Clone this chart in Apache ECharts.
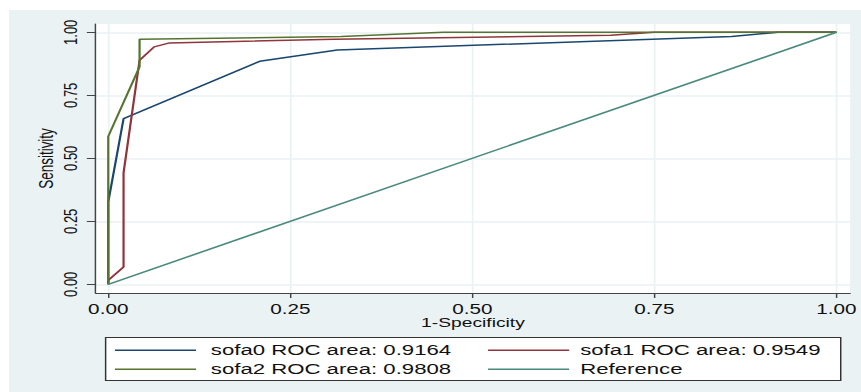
<!DOCTYPE html>
<html>
<head>
<meta charset="utf-8">
<script src="https://cdn.jsdelivr.net/npm/echarts@6/dist/echarts.min.js"></script>
<style>
  html, body { margin: 0; padding: 0; background: #ffffff; overflow: hidden; }
  #wrap { width: 861px; height: 392px; overflow: hidden; }
  #chart { width: 582px; height: 392px; transform: scaleX(1.479381); transform-origin: 0 0; }
</style>
</head>
<body>
<div id="wrap"><div id="chart"></div></div>
<script>
// ---- data (1-Specificity, Sensitivity) ----
const sofa0 = [[0,0],[0,0.327],[0.021,0.657],[0.208,0.885],[0.3145,0.930],[0.856,0.983],[0.92,1],[1,1]];
const sofa1 = [[0,0],[0,0.016],[0.021,0.069],[0.021,0.442],[0.043,0.889],[0.063,0.942],[0.084,0.958],[0.31,0.972],[0.69,0.988],[0.75,1],[1,1]];
const sofa2 = [[0,0],[0,0.587],[0.043,0.863],[0.043,0.972],[0.32,0.983],[0.46,1],[1,1]];
const reference = [[0,0],[1,1]];
const seriesNames = ['sofa0 ROC area: 0.9164','sofa1 ROC area: 0.9549','sofa2 ROC area: 0.9808','Reference'];
const tickValues = [0, 0.25, 0.5, 0.75, 1];
const xTitle = '1-Specificity';
const yTitle = 'Sensitivity';

const colors = ['#1a476f','#90353b','#55752f','#4a8a7c'];
const bg = '#eaf2f3';
const font = '"Liberation Sans", Arial, sans-serif';

const chart = echarts.init(document.getElementById('chart'), null, {renderer: 'svg'});
const mk = (name, data, i) => ({
  name: name, type: 'line', data: data, symbol: 'none', animation: false,
  lineStyle: {color: colors[i], width: 1.5}, itemStyle: {color: colors[i]}
});
const legendBase = {
  selectedMode: false, orient: 'vertical', top: 342.7, padding: 0,
  icon: 'rect', itemWidth: 54.8, itemHeight: 1.6, itemGap: 4
};
chart.setOption({
  animation: false,
  graphic: [
    {type: 'rect', z: -10, silent: true, shape: {x: 6.1, y: 10, width: 580, height: 390}, style: {fill: bg}},
    {type: 'rect', z: 1, silent: true, shape: {x: 71.4, y: 337.5, width: 496.9, height: 43}, style: {fill: '#ffffff', stroke: '#333', lineWidth: 1}}
  ],
  grid: {left: 64.7, right: 6.3, top: 24, bottom: 99, show: true, backgroundColor: '#ffffff', borderWidth: 0},
  xAxis: {
    type: 'value', min: -0.01723, max: 1.01886,
    name: xTitle, nameLocation: 'middle', nameGap: 23, nameMoveOverlap: false,
    nameTextStyle: {fontFamily: font, fontSize: 13, color: '#111'},
    axisLine: {show: true, onZero: false, lineStyle: {color: '#444', width: 1}},
    axisTick: {show: true, customValues: tickValues, length: 5, lineStyle: {color: '#444', width: 1}},
    axisLabel: {customValues: tickValues, formatter: v => v.toFixed(2), margin: 9, fontFamily: font, fontSize: 14, color: '#111'},
    splitLine: {show: true, lineStyle: {color: bg, width: 1.2}}
  },
  yAxis: {
    type: 'value', min: -0.0345, max: 1.0329,
    name: yTitle, nameLocation: 'middle', nameGap: 26, nameMoveOverlap: false,
    nameTextStyle: {fontFamily: font, fontSize: 13.5, color: '#111'},
    axisLine: {show: true, onZero: false, lineStyle: {color: '#444', width: 1}},
    axisTick: {show: true, customValues: tickValues, length: 6, lineStyle: {color: '#444', width: 1}},
    axisLabel: {customValues: tickValues, formatter: v => v.toFixed(2), rotate: 90, margin: 11, fontFamily: font, fontSize: 13, color: '#111'},
    splitLine: {show: true, lineStyle: {color: bg, width: 1.5}}
  },
  legend: [
    Object.assign({}, legendBase, {data: [seriesNames[0], seriesNames[2]], left: 77.7,
      textStyle: {fontFamily: font, fontSize: 15, color: '#111', padding: [0,0,0,5]}}),
    Object.assign({}, legendBase, {data: [seriesNames[1], seriesNames[3]], left: 329.9,
      textStyle: {fontFamily: font, fontSize: 15, color: '#111', padding: [0,0,0,2.5]}})
  ],
  series: [mk(seriesNames[0], sofa0, 0), mk(seriesNames[1], sofa1, 1), mk(seriesNames[2], sofa2, 2), mk(seriesNames[3], reference, 3)]
});
</script>
</body>
</html>
